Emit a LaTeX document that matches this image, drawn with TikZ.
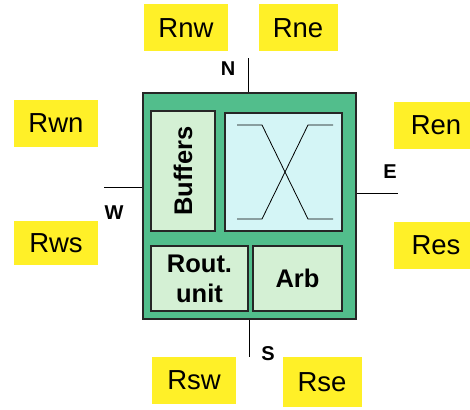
\documentclass[tikz,border=0pt]{standalone}
\usepackage{fontspec}
\setmainfont{Liberation Sans}
\usetikzlibrary{positioning}
\definecolor{routgreen}{RGB}{82,190,140}
\definecolor{partgreen}{RGB}{212,240,212}
\definecolor{xbarcyan}{RGB}{212,245,246}
\definecolor{tagyellow}{RGB}{255,240,40}
\begin{document}
\begin{tikzpicture}[x=1pt,y=-1pt,
    tag/.style={fill=tagyellow, minimum width=84pt, minimum height=47pt, inner sep=0pt,
      font=\fontsize{27.5}{30}\selectfont},
    part/.style={draw=black!85, line width=1.5pt, fill=partgreen, inner sep=0pt,
      font=\fontsize{25.5}{30}\selectfont\bfseries, align=center},
    dir/.style={font=\fontsize{20}{22}\selectfont\bfseries, inner sep=0pt},
    port/.style={line width=1pt}]
      \useasboundingbox (0,0) rectangle (470,409);
      % router and its parts
      \node[draw=black!85, line width=1.5pt, fill=routgreen, minimum width=213pt,
        minimum height=226pt] (router) at (249.5,206) {};
      \node[part, minimum width=64pt, minimum height=120pt] (buf) at (183,171)
        {\rotatebox{90}{Buffers}};
      \node[part, fill=xbarcyan, minimum width=117pt, minimum height=118pt] (xbar) at (283.5,172) {};
      \node[part, minimum width=97pt, minimum height=65pt] (rout) at (199.5,278.5) {Rout.\\unit};
      \node[part, minimum width=89pt, minimum height=65pt] (arb) at (297.5,278.5) {Arb};
      % crossbar
      \draw[line width=0.8pt] (237,125) -- (262,125) -- (308,219) -- (333,219);
      \draw[line width=0.8pt] (237,219) -- (262,219) -- (308,125) -- (333,125);
      % ports
      \coordinate (nEnd) at (248,58);
      \coordinate (sEnd) at (249,357);
      \coordinate (wEnd) at (104,187);
      \coordinate (eEnd) at (398,193);
      \draw[port] (router.north -| nEnd) -- (nEnd);
      \draw[port] (router.south -| sEnd) -- (sEnd);
      \draw[port] (router.west |- wEnd) -- (wEnd);
      \draw[port] (router.east |- eEnd) -- (eEnd);
      \node[dir] (nLbl) at (228,69) {N};
      \node[dir] (sLbl) at (268,354) {S};
      \node[dir] (wLbl) at (114,213) {W};
      \node[dir] (eLbl) at (390,172) {E};
      % neighbour routers
      \node[tag] (rnw) at (186,28) {Rnw};
      \node[tag, minimum width=79pt] (rne) at (298,28) {Rne};
      \node[tag] (rwn) at (56,123) {Rwn};
      \node[tag, minimum height=44pt] (rws) at (56,243) {Rws};
      \node[tag] (ren) at (436,125) {Ren};
      \node[tag] (res) at (436,245) {Res};
      \node[tag] (rsw) at (194,380) {Rsw};
      \node[tag, minimum width=79pt, minimum height=50pt] (rse) at (322,382) {Rse};
\end{tikzpicture}
\end{document}
